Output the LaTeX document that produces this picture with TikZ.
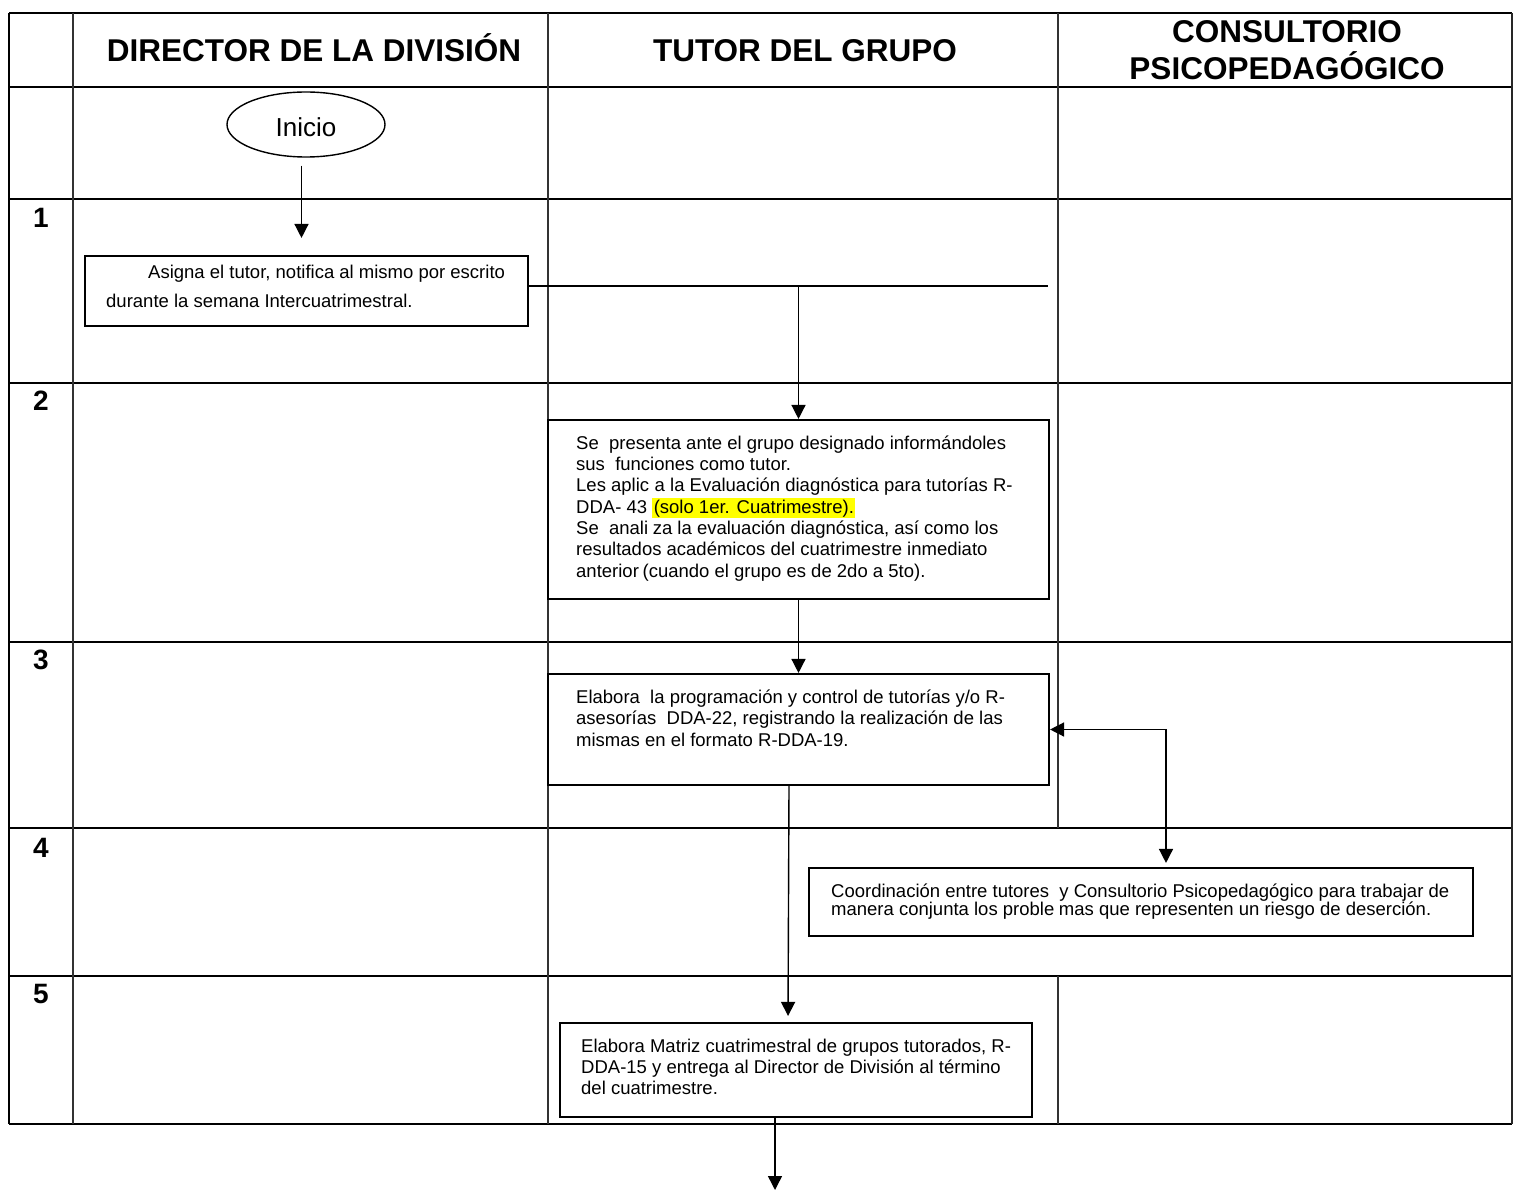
\documentclass[tikz,border=0pt]{standalone}
\usepackage{fontspec}
\setmainfont{Liberation Sans}
\usetikzlibrary{shapes.geometric,arrows.meta,calc}
\definecolor{hl}{RGB}{255,255,0}
\begin{document}
\begin{tikzpicture}[x=1pt,y=-1pt,
  rule/.style={line width=2.7pt,black},
  vrule/.style={line width=1.7pt,black!80},
  box/.style={draw,line width=2.1pt,inner sep=0pt},
  txt/.style={inner sep=0pt,align=left,anchor=base west,font=\fontsize{18.5}{21.3}\selectfont},
  hdr/.style={font=\fontsize{31.5}{37}\selectfont\bfseries,inner sep=0pt,anchor=base},
  num/.style={font=\fontsize{28}{30}\selectfont\bfseries,inner sep=0pt,anchor=base},
  conn/.style={line width=1.4pt},
  arr/.style={conn,-{Triangle[length=14pt,width=14pt]}},
  dblarr/.style={conn,{Triangle[length=14pt,width=14pt]}-{Triangle[length=14pt,width=14pt]}},
]
\useasboundingbox (0,0) rectangle (1516,1190);

% table grid
\foreach \yy in {13,87,199,383,642,828,976,1124} \draw[rule] (9,\yy) -- (1512,\yy);
\draw[line width=2pt] (9,13) -- (9,1124);
\draw[line width=2pt,black!85] (1512,13) -- (1512,1124);
\draw[vrule] (73,13) -- (73,1124);
\draw[vrule] (548,13) -- (548,1124);
\draw[vrule] (1058,13) -- (1058,828);
\draw[vrule] (1058,976) -- (1058,1124);

% headers
\node[hdr] (h1) at (314,62) {DIRECTOR DE LA DIVISIÓN};
\node[hdr] (h2) at (805,62) {TUTOR DEL GRUPO};
\node[hdr] (h3a) at (1287,43) {CONSULTORIO};
\node[hdr] (h3b) at (1287,80) {PSICOPEDAGÓGICO};

% row numbers
\node[num] (n1) at (41,228) {1};
\node[num] (n2) at (41,410) {2};
\node[num] (n3) at (41,669) {3};
\node[num] (n4) at (41,857) {4};
\node[num] (n5) at (41,1003) {5};

% start
\node[draw,ellipse,line width=1.4pt,minimum width=158pt,minimum height=65pt,inner sep=0pt,
      font=\fontsize{26}{28}\selectfont,text height=25pt,text depth=0pt] (inicio) at (306,124.5) {Inicio};

% boxes
\node[box,minimum width=443pt,minimum height=70pt] (b1) at (306.5,291) {};
\node[box,minimum width=501pt,minimum height=179pt] (b2) at (798.5,509.5) {};
\node[box,minimum width=501pt,minimum height=111pt] (b3) at (798.5,729.5) {};
\node[box,minimum width=664pt,minimum height=68pt] (b4) at (1141,902) {};
\node[box,minimum width=472pt,minimum height=94pt] (b5) at (796,1070) {};

% texts (anchored at the baseline of their last line)
\node[txt,font=\fontsize{18.5}{29}\selectfont] (t1) at (106,308)
  {\hspace*{42pt}Asigna el tutor, notifica al mismo por escrito\\durante la semana Intercuatrimestral.};
\node[txt] (t2) at (576,577)
  {Se\ \ presenta ante el grupo designado informándoles\\
   sus\ \ funciones como tutor.\\
   Les aplic\hspace{0.3em}a la Evaluación diagnóstica para tutorías R-\\
   DDA- 43 {\setlength{\fboxsep}{1.5pt}\colorbox{hl}{(solo 1er. Cuatrimestre).}}\\
   Se\ \ anali\hspace{0.25em}za la evaluación diagnóstica, así como los\\
   resultados académicos del cuatrimestre inmediato\\
   anterior\hspace{0.2em}(cuando el grupo es de 2do a 5to).};
\node[txt] (t3) at (576,746)
  {Elabora\ \ la programación y control de tutorías y/o R-\\
   asesorías\ \ DDA-22, registrando la realización de las\\
   mismas en el formato R-DDA-19.};
\node[txt,font=\fontsize{18.5}{18.5}\selectfont] (t4) at (831,915.5)
  {Coordinación entre tutores\ \ y Consultorio Psicopedagógico para trabajar de\\
   manera conjunta los proble\hspace{0.25em}mas que representen un riesgo de deserción.};
\node[txt] (t5) at (581,1094.6)
  {Elabora Matriz cuatrimestral de grupos tutorados, R-\\
   DDA-15 y entrega al Director de División al término\\
   del cuatrimestre.};

% connectors
\coordinate (j1) at (1048,286);
\coordinate (j2) at (798.5,286);
\coordinate (c2) at (1166,729.5);
\coordinate (fin) at (775,1190);

\draw[arr] ([xshift=-4.5pt,yshift=-8pt]inicio.south) -- ([xshift=-5pt,yshift=17pt]b1.north);
\draw[conn] (b1.east |- j1) -- (j1);
\draw[arr] (j2) -- (b2.north);
\draw[arr] (b2.south) -- (b3.north);
\draw[dblarr,shorten >=4pt] (b3.east) -- (c2) -- (c2 |- b4.north);
\draw[arr,shorten >=6pt] ([xshift=-9.5pt]b3.south) -- ([xshift=-8pt]b5.north);
\draw[arr] (b5.south -| fin) -- (fin);
\end{tikzpicture}
\end{document}
